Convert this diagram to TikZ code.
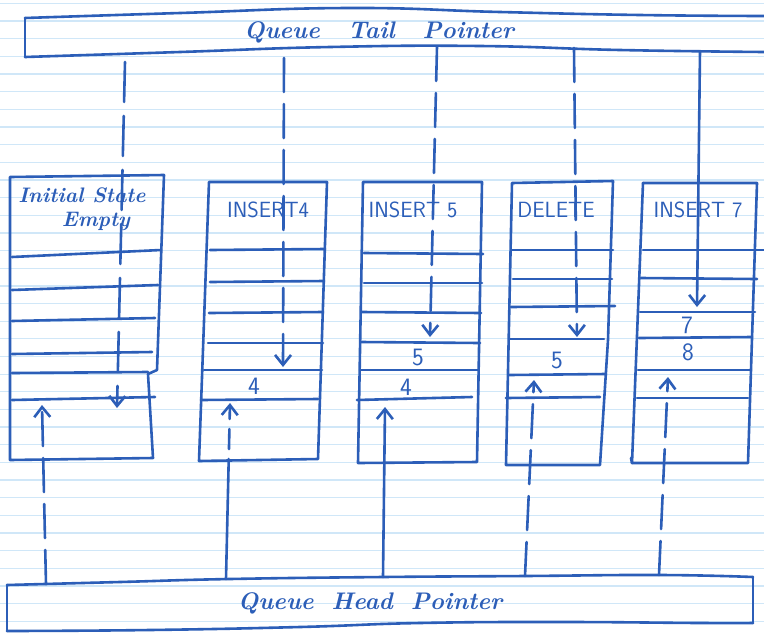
\documentclass[tikz,border=0pt]{standalone}
\usepackage{fontspec}
\usetikzlibrary{arrows.meta}
\definecolor{ink}{RGB}{44,94,184}
\definecolor{ruled}{RGB}{208,231,248}
\begin{document}
\begin{tikzpicture}[x=1pt,y=-1pt,
  stroke/.style={draw=ink, line width=2.6pt, line cap=round, line join=round},
  ptr/.style={stroke, -{Straight Barb[length=10pt,width=16pt,line width=2.6pt]}},
  dsh/.style={dash pattern=on 34pt off 12pt},
  dshb/.style={dash pattern=on 40pt off 14pt},
  lbl/.style={text=ink, font=\sffamily\fontsize{22}{22}\selectfont, inner sep=0pt},
  num/.style={text=ink, font=\sffamily\fontsize{25}{25}\selectfont, inner sep=0pt},
  cursive/.style={text=ink, font=\bfseries\itshape\fontsize{21}{21}\selectfont, inner sep=0pt},
  title/.style={text=ink, font=\bfseries\itshape\fontsize{24}{24}\selectfont, inner sep=0pt}]

\useasboundingbox (0,0) rectangle (764,633);
\fill[white] (0,0) rectangle (764,633);
\foreach \k in {0,...,35} \draw[ruled, line width=1.3pt] (0,{3.3+17.66*\k}) -- (764,{3.3+17.66*\k});

% ---- Queue Tail Pointer box
\draw[stroke] plot[smooth, tension=0.8] coordinates {(25,18) (180,13) (350,8) (500,12) (640,15) (764,16)};
\draw[stroke] (25,18) -- (25,57);
\draw[stroke] plot[smooth, tension=0.8] coordinates {(25,57) (180,52) (330,47) (480,46) (620,50) (764,52)};
\node[title] (tail) at (379,32) {Queue\hspace{28pt}Tail\hspace{28pt}Pointer};
\coordinate (t1) at (125,62);
\coordinate (t2) at (284,58);
\coordinate (t3) at (437,47);
\coordinate (t4) at (574,48);
\coordinate (t5) at (700,51);

% ---- Queue Head Pointer box
\draw[stroke] plot[smooth, tension=0.8] coordinates {(7,585) (120,582) (230,579) (383,577) (525,576) (660,575) (753,577)};
\draw[stroke] (753,577) -- (753,623);
\draw[stroke] plot[smooth, tension=0.8] coordinates {(7,631) (150,630) (300,627) (420,623) (560,622) (700,623) (753,623)};
\draw[stroke] (7,585) -- (7,631);
\node[title] (head) at (370,603) {Queue\hspace{18pt}Head\hspace{18pt}Pointer};
\coordinate (h1) at (46,584);
\coordinate (h2) at (226,579);
\coordinate (h3) at (383,577);
\coordinate (h4) at (525,576);
\coordinate (h5) at (659,575);

% ---- Column 1: initial state
\draw[stroke] (10,177) -- (164,175) -- (157,370) -- (148,374) -- (153,458) -- (10,460) -- cycle;
\draw[stroke] (12,257) -- (161,250);
\draw[stroke] (12,290) -- (158,285);
\draw[stroke] (12,321) -- (155,318);
\draw[stroke] (12,354) -- (152,352);
\draw[stroke] (12,373) -- (148,372);
\draw[stroke] (12,400) -- (155,397);
\node[cursive] (c1a) at (82,195) {Initial State};
\node[cursive] (c1b) at (96,221) {Empty};
\coordinate (c1t) at (117,408);
\coordinate (c1h) at (42,405);

% ---- Column 2: INSERT 4
\draw[stroke] (209,182) -- (327,182) -- (318,459) -- (199,461) -- cycle;
\draw[stroke] (210,250) -- (325,249);
\draw[stroke] (210,282) -- (324,281);
\draw[stroke] (209,313) -- (323,312);
\draw[stroke] (208,343) -- (323,343);
\draw[stroke] (204,370) -- (322,370);
\draw[stroke] (201,400) -- (318,399);
\node[lbl] (c2a) at (268,210) {INSERT4};
\node[num] (c2n4) at (254,386) {4};
\coordinate (c2t) at (283,367);
\coordinate (c2h) at (230,403);

% ---- Column 3: INSERT 5
\draw[stroke] (363,182) -- (482,182) -- (477,462) -- (358,463) -- cycle;
\draw[stroke] (364,253) -- (483,254);
\draw[stroke] (364,283) -- (482,283);
\draw[stroke] (362,312) -- (481,313);
\draw[stroke] (361,342) -- (480,343);
\draw[stroke] (360,370) -- (478,370);
\draw[stroke] (357,400) -- (472,397);
\node[lbl] (c3a) at (413,210) {INSERT 5};
\node[num] (c3n5) at (418,357) {5};
\node[num] (c3n4) at (406,387) {4};
\coordinate (c3t) at (430,337);
\coordinate (c3h) at (385,407);

% ---- Column 4: DELETE
\draw[stroke] (512,183) -- (613,181) -- (608,340) -- (600,465) -- (506,465) -- cycle;
\draw[stroke] (512,250) -- (613,250);
\draw[stroke] (513,279) -- (612,279);
\draw[stroke] (511,307) -- (615,306);
\draw[stroke] (510,339) -- (604,339);
\draw[stroke] (509,375) -- (606,374);
\draw[stroke] (506,398) -- (600,397);
\node[lbl] (c4a) at (556,210) {DELETE};
\node[num] (c4n5) at (557,360) {5};
\coordinate (c4t) at (577,337);
\coordinate (c4h) at (534,380);

% ---- Column 5: INSERT 7
\draw[stroke] (643,183) -- (757,183) -- (748,463) -- (632,463) -- (631,458);
\draw[stroke] (632,463) -- (643,183);
\draw[stroke] (643,250) -- (764,250);
\draw[stroke] (641,278) -- (757,279);
\draw[stroke] (640,312) -- (755,312);
\draw[stroke] (639,338) -- (752,337);
\draw[stroke] (638,370) -- (750,370);
\draw[stroke] (637,398) -- (748,398);
\node[lbl] (c5a) at (698,210) {INSERT 7};
\node[num] (c5n7) at (687,325) {7};
\node[num] (c5n8) at (688,352) {8};
\coordinate (c5t) at (697,307);
\coordinate (c5h) at (668,377);

% ---- tail pointer arrows
\draw[ptr, dshb] (t1) -- (c1t);
\draw[ptr, dsh] (t2) -- (c2t);
\draw[ptr, dsh] (t3) -- (c3t);
\draw[ptr, dsh] (t4) -- (c4t);
\draw[ptr] (t5) -- (c5t);

% ---- head pointer arrows
\draw[ptr, dsh] (h1) -- (c1h);
\draw[ptr, dash pattern=on 120pt off 10pt on 20pt off 10pt] (h2) -- (c2h);
\draw[ptr] (h3) -- (c3h);
\draw[ptr, dsh] (h4) -- (c4h);
\draw[ptr, dsh] (h5) -- (c5h);
\end{tikzpicture}
\end{document}
